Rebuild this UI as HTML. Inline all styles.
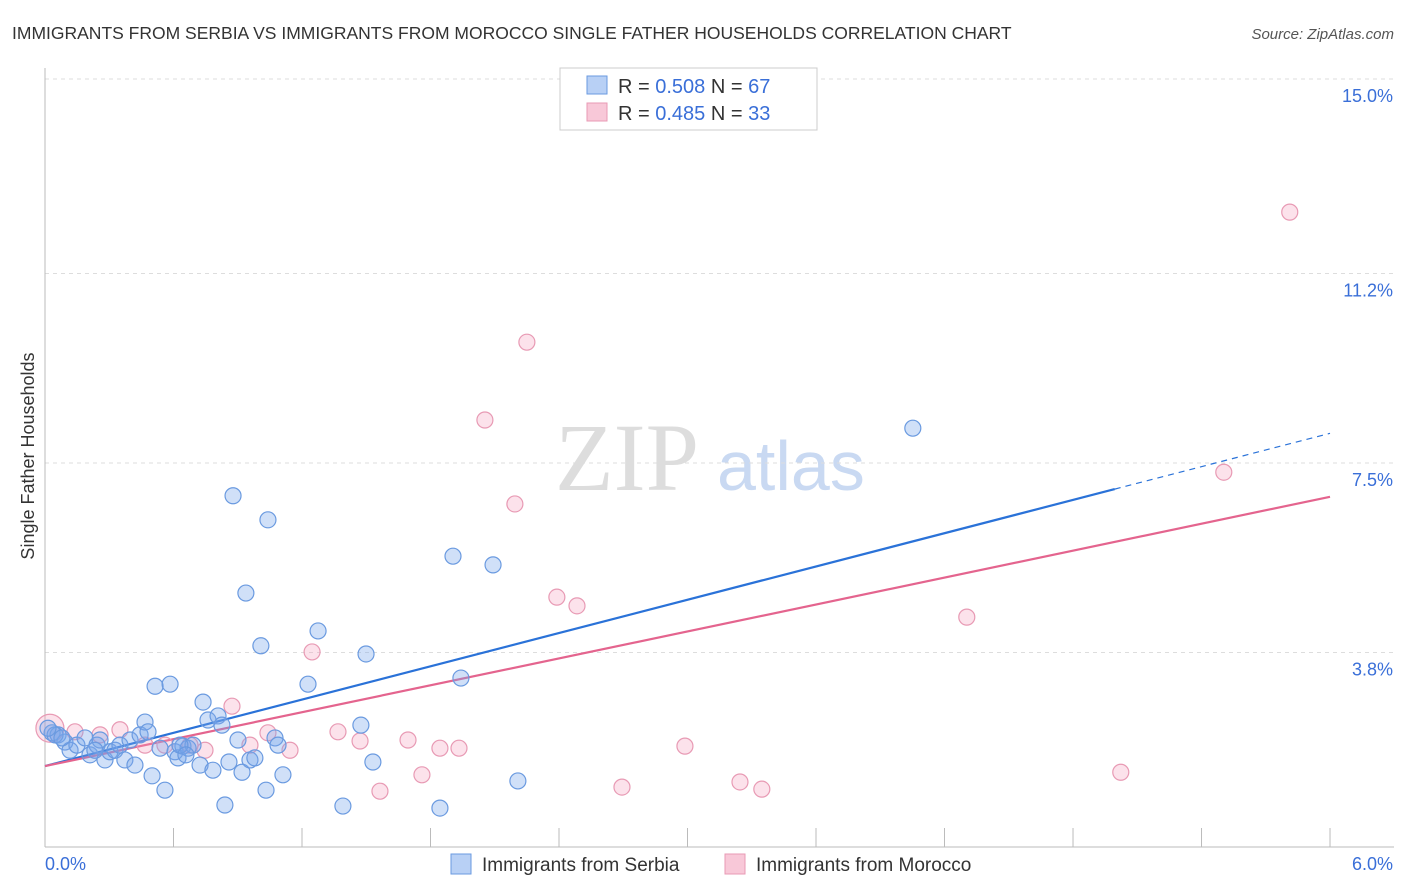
<!DOCTYPE html>
<html><head><meta charset="utf-8"><style>
body{margin:0;background:#fff;font-family:"Liberation Sans",sans-serif;}
svg{display:block}
</style></head><body>
<svg id="chart" width="1406" height="892" viewBox="0 0 1406 892">
<text x="12" y="39" font-size="17.5" fill="#333">IMMIGRANTS FROM SERBIA VS IMMIGRANTS FROM MOROCCO SINGLE FATHER HOUSEHOLDS CORRELATION CHART</text>
<text x="1394" y="39" font-size="15" fill="#555" font-style="italic" text-anchor="end">Source: ZipAtlas.com</text>
<text transform="translate(34,456) rotate(-90)" font-size="18" fill="#333" text-anchor="middle">Single Father Households</text>
<g>
<text x="555" y="490" font-size="96" fill="#ddd" font-family="Liberation Serif,serif">ZIP</text>
<text x="717" y="490" font-size="70" fill="#c9d9f2">atlas</text>
</g>
<g id="grid"></g>
<g id="axes"></g>
<g id="lines"></g>
<g id="points"></g>
<g>
<rect x="560" y="68" width="257" height="62" fill="#fff" stroke="#ccc"/>
<rect x="587" y="76" width="20" height="18" fill="#b8d0f5" stroke="#6a9ae0"/>
<text x="618" y="93" font-size="20" fill="#333">R = <tspan fill="#3a6fd8">0.508</tspan>   N = <tspan fill="#3a6fd8">67</tspan></text>
<rect x="587" y="103" width="20" height="18" fill="#f8c8d8" stroke="#e89ab4"/>
<text x="618" y="120" font-size="20" fill="#333">R = <tspan fill="#3a6fd8">0.485</tspan>   N = <tspan fill="#3a6fd8">33</tspan></text>
</g>
<g>
<rect x="451" y="854" width="20" height="20" fill="#b8d0f5" stroke="#6a9ae0"/>
<text x="482" y="871" font-size="19" fill="#333">Immigrants from Serbia</text>
<rect x="725" y="854" width="20" height="20" fill="#f8c8d8" stroke="#e89ab4"/>
<text x="756" y="871" font-size="19" fill="#333">Immigrants from Morocco</text>
</g>
</svg>
<script>
const yTicks=[3.8,7.5,11.2,15.0];
const yTickLabels=["3.8%","7.5%","11.2%","15.0%"];
const xTickLabels=["0.0%","6.0%"];
const serbiaX=[0.033,0.061,0.093,0.117,0.149,0.187,0.210,0.243,0.257,0.280,0.303,0.327,0.350,0.373,0.397,0.420,0.444,0.467,0.481,0.500,0.514,0.537,0.560,0.584,0.607,0.621,0.644,0.668,0.691,0.724,0.738,0.761,0.784,0.808,0.826,0.840,0.859,0.878,0.901,0.920,0.938,0.957,0.980,1.008,1.032,1.041,1.074,1.088,1.111,1.228,1.275,1.391,1.475,1.499,1.531,1.844,1.905,1.942,2.092,2.208,4.052,0.047,0.079,0.233,0.630,0.658,0.014];
const serbiaY=[2.23,2.19,2.05,1.89,1.99,2.13,1.80,1.99,2.09,1.70,1.86,1.89,1.99,1.70,2.09,1.60,2.19,2.44,2.25,1.39,3.14,1.93,1.11,3.18,1.86,1.74,1.97,1.93,1.99,1.60,2.83,2.48,1.50,2.56,2.38,0.82,1.66,6.86,2.09,1.46,4.96,1.70,1.74,3.93,1.11,6.39,2.13,1.99,1.41,3.18,4.22,0.80,2.38,3.77,1.66,0.76,5.68,3.30,5.51,1.29,8.18,2.19,2.13,1.89,1.99,1.80,2.32];
const moroccoX=[0.023,0.140,0.257,0.350,0.467,0.560,0.677,0.747,0.873,0.957,1.041,1.144,1.247,1.368,1.471,1.564,1.695,1.760,1.844,1.933,2.054,2.194,2.250,2.390,2.484,2.694,2.988,3.245,3.347,4.304,5.023,5.504,5.812];
const moroccoY=[2.32,2.25,2.19,2.29,1.99,1.99,1.99,1.89,2.75,1.99,2.23,1.89,3.81,2.25,2.07,1.09,2.09,1.41,1.93,1.93,8.34,6.70,9.86,4.88,4.71,1.17,1.97,1.27,1.13,4.49,1.46,7.32,12.40];
const serbiaTrend=[1.58,6.99,8.08]; // at x=0, 4.995, 6
const moroccoTrend=[1.58,6.84];
const NS="http://www.w3.org/2000/svg";
const X=v=>45+v*214.17, Y=v=>847-v*51.2;
function mk(tag,attrs,parent){const e=document.createElementNS(NS,tag);for(const k in attrs)e.setAttribute(k,attrs[k]);document.getElementById(parent).appendChild(e);return e;}
yTicks.forEach((t,i)=>{
 const l=mk('line',{x1:45,x2:1394,y1:Y(t),y2:Y(t),stroke:'#ddd','stroke-dasharray':'4,4'},'grid');
 
 
 const tx=mk('text',{x:1393,y:Y(t)+23,'font-size':18,fill:'#3a6fd8','text-anchor':'end'},'axes');
 tx.textContent=yTickLabels[i];
 
 
});
const ax=mk('line',{x1:45,x2:1394,y1:847,y2:847,stroke:'#bbb'},'axes');


const ay=mk('line',{x1:45,x2:45,y1:68,y2:847,stroke:'#bbb'},'axes');


for(let i=0;i<=10;i++){
 const t=mk('line',{x1:X(i*0.6),x2:X(i*0.6),y1:828,y2:847,stroke:'#bbb'},'axes');
 
 
}
const xl0=mk('text',{x:45,y:870,'font-size':18,fill:'#3a6fd8'},'axes');
xl0.textContent=xTickLabels[0];


const xl1=mk('text',{x:1393,y:870,'font-size':18,fill:'#3a6fd8','text-anchor':'end'},'axes');
xl1.textContent=xTickLabels[1];


function drawPts(xs,ys,fill,stroke,name){
 xs.forEach((x,i)=>{
  const c=mk('circle',{cx:X(x),cy:Y(ys[i]),r:(name==='point-morocco'&&i===0)?14:8,fill:fill,stroke:stroke,'stroke-width':1.2},'points');
  
  
 });
}
drawPts(moroccoX,moroccoY,'rgba(245,160,190,0.3)','#e89ab4','point-morocco');
drawPts(serbiaX,serbiaY,'rgba(120,165,235,0.35)','#6a9ae0','point-serbia');
const b1=mk('line',{x1:X(0),y1:Y(serbiaTrend[0]),x2:X(4.995),y2:Y(serbiaTrend[1]),stroke:'#2a72d8','stroke-width':2.2},'lines');


const b2=mk('line',{x1:X(4.995),y1:Y(serbiaTrend[1]),x2:X(6),y2:Y(serbiaTrend[2]),stroke:'#2a72d8','stroke-width':1.2,'stroke-dasharray':'6,5'},'lines');


const p1=mk('line',{x1:X(0),y1:Y(moroccoTrend[0]),x2:X(6),y2:Y(moroccoTrend[1]),stroke:'#e4648e','stroke-width':2.2},'lines');


</script>
</body></html>
